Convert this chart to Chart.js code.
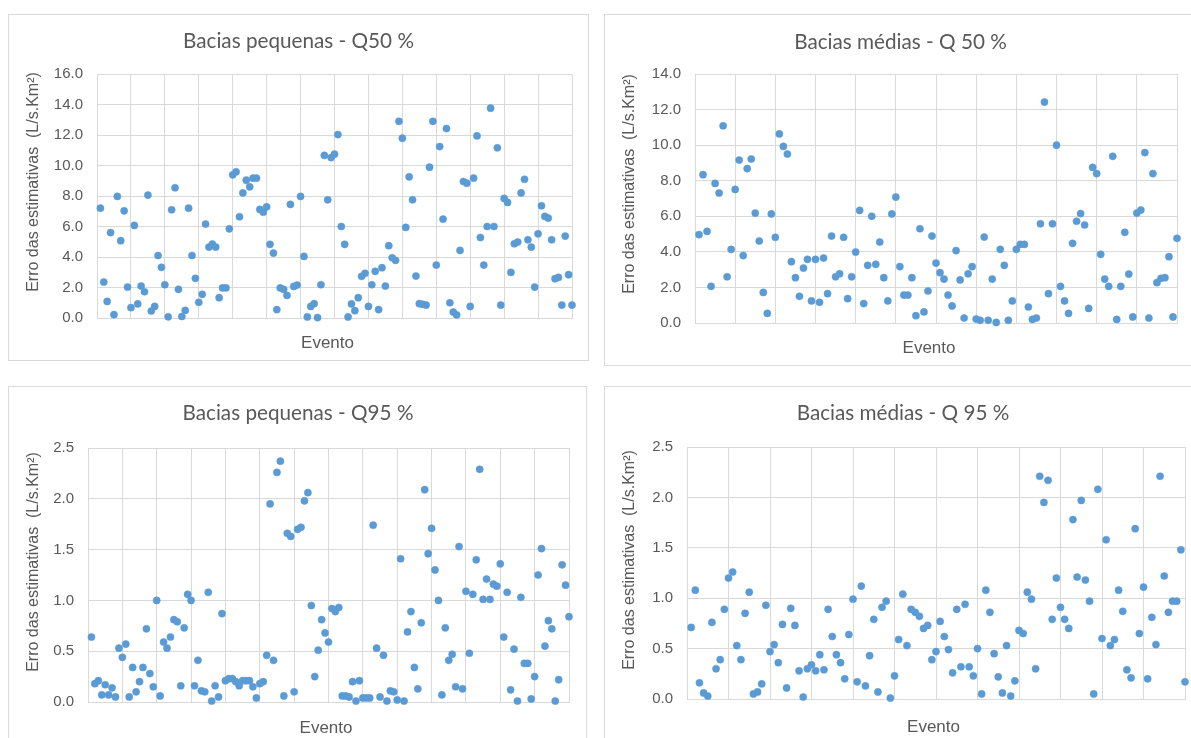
<!DOCTYPE html>
<html>
<head>
<meta charset="utf-8">
<script src="https://cdn.jsdelivr.net/npm/chart.js@4.4.1/dist/chart.umd.min.js"></script>
<style>
  html, body { margin: 0; padding: 0; background: #fff; width: 1191px; height: 738px; overflow: hidden; }
  .panel { position: absolute; border: 1px solid #D9D9D9; box-sizing: border-box; background: #fff; overflow: hidden; }
  .panel canvas { position: absolute; left: 0; top: 0; }
</style>
</head>
<body>
<div class="panel" id="panel0"><canvas></canvas></div>
<div class="panel" id="panel1"><canvas></canvas></div>
<div class="panel" id="panel2"><canvas></canvas></div>
<div class="panel" id="panel3"><canvas></canvas></div>
<script>
// Error of the estimates per event (L/s.Km²), one value per event
const pequenasQ50 = [
  7.2, 2.36, 1.09, 5.6, 0.22, 7.97, 5.07, 7.03, 2.03, 0.68,
  6.07, 0.92, 2.1, 1.72, 8.06, 0.46, 0.76, 4.1, 3.32, 2.18,
  0.08, 7.1, 8.54, 1.88, 0.1, 0.5, 7.2, 4.1, 2.6, 1.03,
  1.55, 6.16, 4.65, 4.85, 4.65, 1.33, 1.97, 1.97, 5.85, 9.39,
  9.59, 6.64, 8.2, 9.04, 8.6, 9.17, 9.17, 7.12, 6.94, 7.29,
  4.83, 4.26, 0.55, 1.97, 1.88, 1.48, 7.45, 2.07, 2.16, 7.97,
  4.04, 0.07, 0.76, 0.94, 0.03, 2.18, 10.66, 7.75, 10.52, 10.74,
  12.03, 6.0, 4.83, 0.07, 0.92, 0.48, 1.33, 2.73, 2.93, 0.76,
  2.18, 3.06, 0.55, 3.3, 2.1, 4.74, 3.95, 3.78, 12.9, 11.79,
  5.94, 9.26, 7.75, 2.75, 0.94, 0.9, 0.85, 9.89, 12.9, 3.47,
  11.24, 6.48, 12.42, 1.0, 0.39, 0.2, 4.43, 8.95, 8.84, 0.76,
  9.17, 11.94, 5.28, 3.47, 6.0, 13.76, 6.0, 11.16, 0.85, 7.84,
  7.58, 2.99, 4.87, 4.98, 8.2, 9.1, 5.13, 4.65, 2.03, 5.52,
  7.36, 6.66, 6.55, 5.13, 2.58, 2.66, 0.85, 5.37, 2.84, 0.85
];
const mediasQ50 = [
  4.97, 8.34, 5.15, 2.06, 7.85, 7.31, 11.09, 2.6, 4.14, 7.51,
  9.16, 3.79, 8.68, 9.22, 6.18, 4.61, 1.72, 0.54, 6.13, 4.82,
  10.63, 9.93, 9.5, 3.45, 2.55, 1.5, 3.09, 3.58, 1.24, 3.58,
  1.16, 3.65, 1.65, 4.89, 2.6, 2.77, 4.82, 1.37, 2.6, 3.99,
  6.33, 1.09, 3.24, 6.0, 3.3, 4.55, 2.55, 1.24, 6.13, 7.08,
  3.17, 1.57, 1.57, 2.55, 0.41, 5.3, 0.62, 1.8, 4.89, 3.37,
  2.83, 2.47, 1.57, 0.96, 4.07, 2.42, 0.28, 2.77, 3.17, 0.22,
  0.15, 4.83, 0.15, 2.47, 0.03, 4.14, 3.24, 0.15, 1.24, 4.14,
  4.42, 4.42, 0.9, 0.2, 0.28, 5.58, 12.42, 1.65, 5.58, 10.0,
  2.06, 1.24, 0.54, 4.48, 5.72, 6.15, 5.51, 0.82, 8.75, 8.4,
  3.86, 2.47, 2.06, 9.37, 0.2, 2.06, 5.1, 2.75, 0.34, 6.18,
  6.35, 9.58, 0.28, 8.4, 2.27, 2.51, 2.55, 3.73, 0.34, 4.76
];
const pequenasQ95 = [
  0.64, 0.18, 0.21, 0.07, 0.17, 0.07, 0.14, 0.05, 0.53, 0.44,
  0.57, 0.05, 0.34, 0.1, 0.2, 0.34, 0.72, 0.28, 0.15, 1.0,
  0.06, 0.59, 0.53, 0.64, 0.81, 0.79, 0.16, 0.73, 1.06, 1.0,
  0.16, 0.41, 0.11, 0.1, 1.08, 0.01, 0.16, 0.05, 0.87, 0.21,
  0.23, 0.23, 0.2, 0.16, 0.21, 0.21, 0.21, 0.15, 0.04, 0.18,
  0.2, 0.46, 1.95, 0.41, 2.26, 2.37, 0.06, 1.66, 1.63, 0.1,
  1.7, 1.72, 1.98, 2.06, 0.95, 0.25, 0.51, 0.81, 0.68, 0.59,
  0.92, 0.89, 0.93, 0.06, 0.06, 0.05, 0.2, 0.01, 0.21, 0.04,
  0.04, 0.04, 1.74, 0.53, 0.05, 0.46, 0.01, 0.11, 0.1, 0.02,
  1.41, 0.01, 0.69, 0.89, 0.34, 0.13, 0.78, 2.09, 1.46, 1.71,
  1.3, 1.0, 0.07, 0.73, 0.41, 0.47, 0.15, 1.53, 0.13, 1.09,
  0.48, 1.06, 1.4, 2.29, 1.01, 1.21, 1.01, 1.16, 1.14, 1.36,
  0.64, 1.08, 0.12, 0.52, 0.01, 1.03, 0.38, 0.38, 0.03, 0.25,
  1.25, 1.51, 0.55, 0.8, 0.72, 0.01, 0.22, 1.35, 1.15, 0.84
];
const mediasQ95 = [
  0.71, 1.08, 0.16, 0.06, 0.03, 0.76, 0.3, 0.39, 0.89, 1.2,
  1.26, 0.53, 0.39, 0.85, 1.06, 0.05, 0.07, 0.15, 0.93, 0.47,
  0.54, 0.36, 0.74, 0.11, 0.9, 0.73, 0.28, 0.02, 0.3, 0.34,
  0.28, 0.44, 0.29, 0.89, 0.62, 0.44, 0.36, 0.2, 0.64, 0.99,
  0.17, 1.12, 0.13, 0.43, 0.79, 0.07, 0.91, 0.97, 0.01, 0.23,
  0.59, 1.04, 0.53, 0.89, 0.86, 0.82, 0.7, 0.73, 0.39, 0.47,
  0.77, 0.62, 0.49, 0.26, 0.89, 0.32, 0.94, 0.32, 0.23, 0.5,
  0.05, 1.08, 0.86, 0.45, 0.22, 0.06, 0.53, 0.03, 0.18, 0.68,
  0.65, 1.06, 0.99, 0.3, 2.21, 1.95, 2.17, 0.79, 1.2, 0.91,
  0.79, 0.7, 1.78, 1.21, 1.97, 1.18, 0.97, 0.05, 2.08, 0.6,
  1.58, 0.53, 0.59, 1.08, 0.87, 0.29, 0.21, 1.69, 0.65, 1.11,
  0.2, 0.81, 0.54, 2.21, 1.22, 0.86, 0.97, 0.97, 1.48, 0.17
];

// Y tick values for each pair of charts
const ticksQ50Pequenas = [0, 2, 4, 6, 8, 10, 12, 14, 16];
const ticksQ50Medias = [0, 2, 4, 6, 8, 10, 12, 14];
const ticksQ95 = [0, 0.5, 1.0, 1.5, 2.0, 2.5];

// Event axis: gridline every 10 events
const eventStep = 10;

const titles = [
  'Bacias pequenas - Q50 %',
  'Bacias médias - Q 50 %',
  'Bacias pequenas - Q95 %',
  'Bacias médias - Q 95 %'
];
const yAxisTitle = 'Erro das estimativas  (L/s.Km²)';
const xAxisTitle = 'Evento';

// Page geometry of each panel (box) and its plotting area
const panels = [
  { id: 'panel0', values: pequenasQ50, ticks: ticksQ50Pequenas, title: titles[0],
    box: { x: 8, y: 14, w: 581, h: 347 }, plot: { l: 97, t: 74, r: 572, b: 318 },
    titlePos: { x: 298.5, y: 48 }, yTitlePos: { x: 38, y: 182 }, xTitlePos: { x: 327.5, y: 348 } },
  { id: 'panel1', values: mediasQ50, ticks: ticksQ50Medias, title: titles[1],
    box: { x: 604, y: 14, w: 589, h: 352 }, plot: { l: 695, t: 74, r: 1177, b: 323 },
    titlePos: { x: 900.5, y: 49 }, yTitlePos: { x: 634, y: 184 }, xTitlePos: { x: 929, y: 353 } },
  { id: 'panel2', values: pequenasQ95, ticks: ticksQ95, title: titles[2],
    box: { x: 8, y: 386, w: 579, h: 360 }, plot: { l: 88, t: 448, r: 569, b: 702 },
    titlePos: { x: 298, y: 420 }, yTitlePos: { x: 38, y: 562 }, xTitlePos: { x: 326, y: 733 } },
  { id: 'panel3', values: mediasQ95, ticks: ticksQ95, title: titles[3],
    box: { x: 604, y: 386, w: 589, h: 360 }, plot: { l: 687, t: 447, r: 1185, b: 699 },
    titlePos: { x: 903, y: 420 }, yTitlePos: { x: 634, y: 560 }, xTitlePos: { x: 933.5, y: 731.5 } }
];

const TEXT = '#595959';
const GRID = '#D9D9D9';
const BLUE = '#5B9BD5';
const Y_AXIS_WIDTH = 60;

Chart.defaults.font.family = "'Liberation Sans', Arial, sans-serif";
Chart.defaults.color = TEXT;

// Draws the chart title and both axis titles at fixed page positions
const panelText = {
  id: 'panelText',
  afterDraw(chart, args, opts) {
    const ctx = chart.ctx;
    const ox = opts.origin.x, oy = opts.origin.y;
    ctx.save();
    ctx.fillStyle = TEXT;
    ctx.textAlign = 'center';
    ctx.textBaseline = 'alphabetic';

    ctx.font = "20.7px Lato, 'Open Sans', sans-serif";
    ctx.fillText(opts.title, opts.titlePos.x - ox, opts.titlePos.y - oy);

    ctx.font = "17px 'Liberation Sans', Arial, sans-serif";
    ctx.fillText(opts.xTitle, opts.xTitlePos.x - ox, opts.xTitlePos.y - oy);

    ctx.font = "16px 'Liberation Sans', Arial, sans-serif";
    ctx.translate(opts.yTitlePos.x - ox, opts.yTitlePos.y - oy);
    ctx.rotate(-Math.PI / 2);
    ctx.fillText(opts.yTitle, 0, 0);
    ctx.restore();
  }
};

panels.forEach(p => {
  const wrap = document.getElementById(p.id);
  wrap.style.left = p.box.x + 'px';
  wrap.style.top = p.box.y + 'px';
  wrap.style.width = p.box.w + 'px';
  wrap.style.height = p.box.h + 'px';

  const cx = p.box.x + 1, cy = p.box.y + 1;
  const cw = p.box.w - 2, ch = p.box.h - 2;
  const canvas = wrap.querySelector('canvas');
  canvas.width = cw;
  canvas.height = ch;
  canvas.style.width = cw + 'px';
  canvas.style.height = ch + 'px';

  const nEvents = p.values.length;
  const points = p.values.map((v, i) => ({ x: i + 1, y: v }));
  const yMax = p.ticks[p.ticks.length - 1];
  const yStep = p.ticks[1] - p.ticks[0];

  new Chart(canvas, {
    type: 'scatter',
    data: {
      datasets: [{
        data: points,
        backgroundColor: BLUE,
        borderColor: BLUE,
        borderWidth: 0.5,
        pointRadius: 3.6,
        pointHoverRadius: 3.6,
        clip: false
      }]
    },
    options: {
      responsive: false,
      animation: false,
      events: [],
      layout: {
        autoPadding: false,
        padding: {
          left: p.plot.l - cx - Y_AXIS_WIDTH,
          top: p.plot.t - cy,
          right: (cx + cw) - p.plot.r,
          bottom: (cy + ch) - p.plot.b
        }
      },
      plugins: {
        legend: { display: false },
        title: { display: false },
        tooltip: { enabled: false },
        panelText: {
          origin: { x: cx, y: cy },
          title: p.title, titlePos: p.titlePos,
          xTitle: xAxisTitle, xTitlePos: p.xTitlePos,
          yTitle: yAxisTitle, yTitlePos: p.yTitlePos
        }
      },
      scales: {
        x: {
          type: 'linear',
          min: 0,
          max: nEvents,
          ticks: { display: false, stepSize: eventStep },
          grid: { color: GRID, lineWidth: 1, drawTicks: false },
          border: { color: GRID, width: 1 },
          afterFit(scale) { scale.height = 0; }
        },
        y: {
          type: 'linear',
          min: 0,
          max: yMax,
          ticks: {
            stepSize: yStep,
            padding: 14,
            color: TEXT,
            font: { size: 15 },
            callback: v => Number(v).toFixed(1)
          },
          grid: { color: GRID, lineWidth: 1, drawTicks: false },
          border: { color: GRID, width: 1 },
          afterFit(scale) { scale.width = Y_AXIS_WIDTH; }
        }
      }
    },
    plugins: [panelText]
  });
});
</script>
</body>
</html>
